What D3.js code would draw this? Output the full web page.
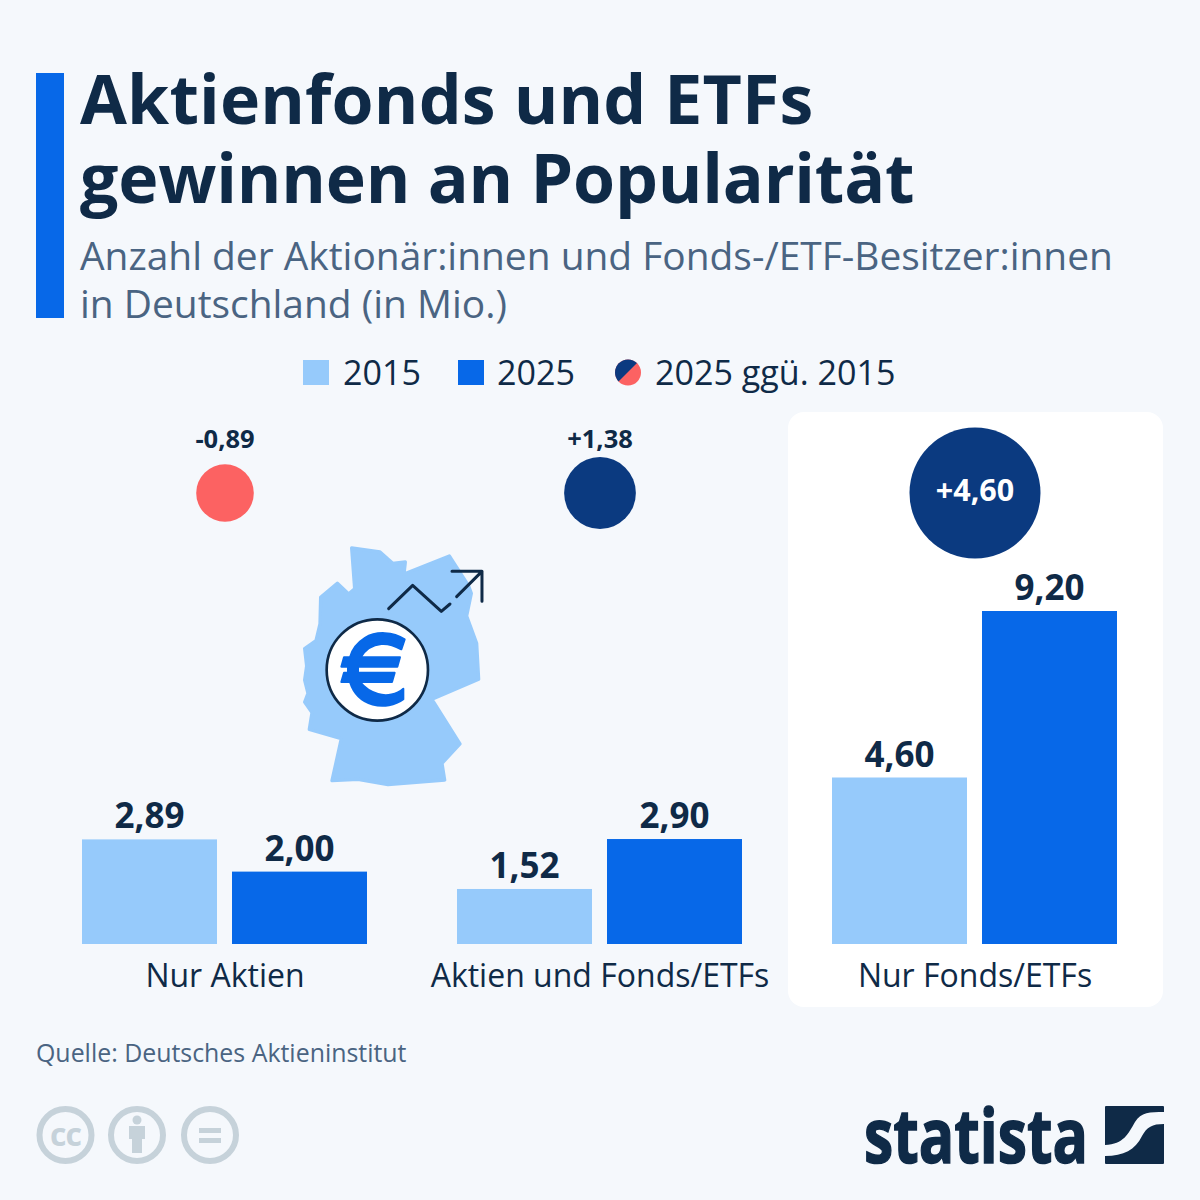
<!DOCTYPE html>
<html>
<head>
<meta charset="utf-8">
<script src="https://cdn.jsdelivr.net/npm/d3@7"></script>
<style>
  html, body { margin: 0; padding: 0; background: #f5f8fc; }
  svg { display: block; }
  text { font-family: "Open Sans", sans-serif; }
</style>
</head>
<body>
<div id="chart"></div>
<script>
// data
const categories = ["Nur Aktien", "Aktien und Fonds/ETFs", "Nur Fonds/ETFs"];
const years = ["2015", "2025"];
const values2015 = [2.89, 1.52, 4.60];
const values2025 = [2.00, 2.90, 9.20];
const changes = [-0.89, 1.38, 4.60];
const titleLines = ["Aktienfonds und ETFs", "gewinnen an Popularität"];
const subtitleLines = ["Anzahl der Aktionär:innen und Fonds-/ETF-Besitzer:innen", "in Deutschland (in Mio.)"];

const navy = "#0f2a47", blue = "#0768e8", light = "#96caFb", dark = "#0b3a80", red = "#fc6262", slate = "#4a6482", grey = "#c6d2da";

const svg = d3.select("#chart").append("svg")
  .attr("width", 1200)
  .attr("height", 1200);

svg.append("rect").attr("width", 1200).attr("height", 1200).attr("fill", "#f5f8fc");

// header
svg.append("rect").attr("x", 36).attr("y", 73).attr("width", 28).attr("height", 245).attr("fill", blue);

svg.selectAll(".title").data(titleLines).enter().append("text")
  .attr("x", 80)
  .attr("y", (d, i) => 124 + i * 79)
  .attr("font-size", 68)
  .attr("font-weight", 700)
  .attr("letter-spacing", (d, i) => i ? -0.2 : 0.15)
  .attr("fill", navy)
  .text(d => d);

svg.selectAll(".sub").data(subtitleLines).enter().append("text")
  .attr("x", 80)
  .attr("y", (d, i) => 270 + i * 48)
  .attr("font-size", 38.9)
  .attr("fill", slate)
  .text(d => d);

// legend
const legend = svg.append("g");
legend.append("rect").attr("x", 303).attr("y", 360).attr("width", 26).attr("height", 25).attr("fill", light);
legend.append("rect").attr("x", 458).attr("y", 360).attr("width", 26).attr("height", 25).attr("fill", blue);
legend.append("clipPath").attr("id", "legendClip")
  .append("circle").attr("cx", 628).attr("cy", 372.5).attr("r", 13);
legend.append("rect").attr("x", 610).attr("y", 355).attr("width", 36).attr("height", 36).attr("fill", red).attr("clip-path", "url(#legendClip)");
legend.append("path").attr("d", "M612,388L642,358L612,358Z").attr("fill", dark).attr("clip-path", "url(#legendClip)");
[[343, years[0]], [497, years[1]], [655, "2025 ggü. 2015"]].forEach(l => {
  legend.append("text").attr("x", l[0]).attr("y", 385).attr("font-size", 34.1).attr("fill", navy).text(l[1]);
});

// highlight panel behind the third group
svg.append("rect").attr("x", 788).attr("y", 412).attr("width", 375).attr("height", 595).attr("rx", 16).attr("fill", "#fff");

// scales
const x = d3.scaleBand().domain(categories).range([37.5, 1162.5]);
const xYear = d3.scaleBand().domain(years).range([44.5, 329.5]).paddingInner(0.1);
const y = d3.scaleLinear().domain([0, 9.2]).range([944, 611]);
const r = d3.scaleSqrt().domain([0, 4.6]).range([0, 65.5]);
const fmt = v => v.toFixed(2).replace(".", ",");
const fmtChange = v => (v > 0 ? "+" : "") + fmt(v);

const rows = categories.map((c, i) => ({
  category: c,
  change: changes[i],
  bars: [
    {year: years[0], value: values2015[i]},
    {year: years[1], value: values2025[i]}
  ]
}));

const groups = svg.selectAll(".group").data(rows).enter().append("g")
  .attr("transform", d => "translate(" + x(d.category) + ",0)");

// bars
groups.selectAll("rect").data(d => d.bars).enter().append("rect")
  .attr("x", d => xYear(d.year))
  .attr("y", d => y(d.value))
  .attr("width", xYear.bandwidth())
  .attr("height", d => y(0) - y(d.value))
  .attr("fill", d => d.year === years[0] ? light : blue);

groups.selectAll(".val").data(d => d.bars).enter().append("text")
  .attr("x", d => xYear(d.year) + xYear.bandwidth() / 2)
  .attr("y", d => y(d.value) - 11)
  .attr("text-anchor", "middle")
  .attr("font-size", 35)
  .attr("font-weight", 700)
  .attr("fill", navy)
  .text(d => fmt(d.value));

// category axis
const axis = svg.append("g")
  .attr("transform", "translate(0,944)")
  .call(d3.axisBottom(x).tickSize(0).tickPadding(20));
axis.select(".domain").remove();
axis.selectAll("text")
  .attr("font-size", 32)
  .attr("font-family", '"Open Sans", sans-serif')
  .attr("fill", navy);

// change bubbles
groups.append("circle")
  .attr("cx", x.bandwidth() / 2)
  .attr("cy", 493)
  .attr("r", d => r(Math.abs(d.change)))
  .attr("fill", d => d.change < 0 ? red : dark);

groups.append("text")
  .attr("x", x.bandwidth() / 2)
  .attr("y", d => r(Math.abs(d.change)) > 50 ? 501 : 448)
  .attr("text-anchor", "middle")
  .attr("font-size", d => r(Math.abs(d.change)) > 50 ? 30.5 : 25.5)
  .attr("font-weight", 700)
  .attr("fill", d => r(Math.abs(d.change)) > 50 ? "#fff" : navy)
  .text(d => fmtChange(d.change));

// germany illustration, drawn in 3x crop units
const map = svg.append("g").attr("transform", "translate(280,530) scale(0.3333)");
map.append("path")
  .attr("d", "M215,54 L300,66 L338,100 L376,96 L372,132 L508,78 L566,168 L574,190 L560,258 L590,340 L596,448 L456,508 L540,642 L486,700 L494,750 L324,764 L234,748 L156,752 L184,626 L88,598 L96,548 L74,516 L84,490 L74,450 L80,408 L74,356 L108,332 L120,282 L122,202 L172,160 L206,192 L224,176 Z")
  .attr("fill", light)
  .attr("stroke", light)
  .attr("stroke-width", 10)
  .attr("stroke-linejoin", "round");
map.append("path")
  .attr("d", "M326,236 L398,166 L484,244 L510,222 M530,200 L606,124 M516,124 L606,124 L606,214")
  .attr("fill", "none")
  .attr("stroke", navy)
  .attr("stroke-width", 9)
  .attr("stroke-linecap", "round")
  .attr("stroke-linejoin", "round");
map.append("circle").attr("cx", 292).attr("cy", 420).attr("r", 152).attr("fill", "#fff").attr("stroke", navy).attr("stroke-width", 8);
map.append("path")
  .attr("d", "M374,328 C340,306 290,302 254,324 C232,338 216,358 210,382 L192,382 L184,410 L204,410 L204,428 L192,428 L184,456 L210,456 C220,488 244,514 278,524 C310,532 346,526 370,508 L370,476 C350,494 320,500 294,492 C272,486 254,474 240,456 L336,456 L344,428 L234,428 L234,410 L352,410 L360,382 L242,382 C256,358 280,344 304,342 C324,340 342,346 364,358 Z")
  .attr("fill", blue)
  .attr("stroke", blue)
  .attr("stroke-width", 6)
  .attr("stroke-linejoin", "round");

// source
svg.append("text").attr("x", 36).attr("y", 1062).attr("font-size", 24.9).attr("fill", slate).text("Quelle: Deutsches Aktieninstitut");

// licence icons
const cc = svg.append("g");
[65.5, 137, 210].forEach(cx => {
  cc.append("circle").attr("cx", cx).attr("cy", 1135).attr("r", 26).attr("fill", "none").attr("stroke", grey).attr("stroke-width", 6);
});
cc.append("text").attr("x", 65.5).attr("y", 1146).attr("text-anchor", "middle").attr("font-size", 32).attr("font-weight", 700).attr("letter-spacing", -1).attr("fill", grey).text("cc");
cc.append("circle").attr("cx", 137).attr("cy", 1120).attr("r", 4.5).attr("fill", grey);
cc.append("path").attr("d", "M129,1126 H145 V1139 H142 V1153 H132 V1139 H129 Z").attr("fill", grey);
cc.append("rect").attr("x", 199).attr("y", 1128).attr("width", 22).attr("height", 5).attr("fill", grey);
cc.append("rect").attr("x", 199).attr("y", 1138).attr("width", 22).attr("height", 5).attr("fill", grey);

// logo
svg.append("text")
  .attr("x", 864)
  .attr("y", 1163)
  .attr("font-family", '"Liberation Sans Narrow", "Liberation Sans", sans-serif')
  .attr("font-size", 76)
  .attr("font-weight", 700)
  .attr("textLength", 224)
  .attr("lengthAdjust", "spacingAndGlyphs")
  .attr("fill", navy)
  .attr("stroke", navy)
  .attr("stroke-width", 1.5)
  .text("statista");
svg.append("rect").attr("x", 1105).attr("y", 1106).attr("width", 59).attr("height", 58).attr("rx", 1).attr("fill", navy);
svg.append("path")
  .attr("d", "M1105,1145 C1124,1144 1128,1134 1135,1122 C1141,1112 1150,1112 1164,1112 L1164,1124 C1152,1124 1147,1127 1142,1136 C1135,1150 1124,1156 1105,1156 Z")
  .attr("fill", "#f5f8fc");
</script>
</body>
</html>
